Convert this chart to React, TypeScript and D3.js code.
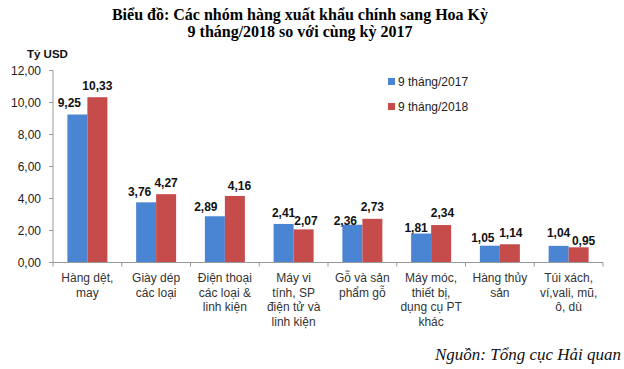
import React from "react";
import * as d3 from "d3";

const categories: string[][] = [
  ["Hàng dệt,", "may"],
  ["Giày dép", "các loại"],
  ["Điện thoại", "các loại &", "linh kiện"],
  ["Máy vi", "tính, SP", "điện tử và", "linh kiện"],
  ["Gỗ và sản", "phẩm gỗ"],
  ["Máy móc,", "thiết bị,", "dụng cụ PT", "khác"],
  ["Hàng thủy", "sản"],
  ["Túi xách,", "ví,vali, mũ,", "ô, dù"],
];
const values2017 = [9.25, 3.76, 2.89, 2.41, 2.36, 1.81, 1.05, 1.04];
const values2018 = [10.33, 4.27, 4.16, 2.07, 2.73, 2.34, 1.14, 0.95];
const seriesNames = ["9 tháng/2017", "9 tháng/2018"];
const yTicks = [0, 2, 4, 6, 8, 10, 12];

// label nudges (layout, px)
const nudge2017 = { dx: [-8, -6.5, -9, 0, -7, -5, -7, 0], gap: [11.4, 10.8, 9.8, 10.8, 4, 5.4, 7.6, 12.7] };
const nudge2018 = { dx: [0, 0, 4.6, 2.4, 0, 1.4, 1, 5], gap: [11.4, 11.7, 10, 9, 12, 12, 11.8, 7] };

const W = 624, H = 369;
const left = 53, right = 603, top = 70.5, bottom = 262.5;
const colors = ["#4a85d3", "#c64b4b"];
const fmt = (v: number) => v.toFixed(2).replace(".", ",");
const sans = "'Liberation Sans', Arial, sans-serif";
const serif = "'Liberation Serif', 'Times New Roman', serif";

export default function App() {
  const x = d3.scaleBand<number>().domain(d3.range(categories.length)).range([left, right]);
  const y = d3.scaleLinear().domain([0, 12]).range([bottom, top]);
  const barW = 20;
  const series = [values2017, values2018];
  const nudges = [nudge2017, nudge2018];
  const bw = x.bandwidth();

  return (
    <svg width={W} height={H} style={{ position: "absolute", left: 0, top: 0, background: "#fff" }}>
      <rect width={W} height={H} fill="#fff" />
      <text x={300} y={20} textAnchor="middle" fontFamily={serif} fontWeight="bold" fontSize={16} fill="#000">
        Biểu đồ: Các nhóm hàng xuất khẩu chính sang Hoa Kỳ
      </text>
      <text x={300} y={37} textAnchor="middle" fontFamily={serif} fontWeight="bold" fontSize={16} fill="#000">
        9 tháng/2018 so với cùng kỳ 2017
      </text>
      <text x={27} y={58} fontFamily={sans} fontWeight="bold" fontSize={11.5} fill="#111">Tỷ USD</text>

      {/* y axis */}
      <line x1={left} x2={left} y1={top} y2={bottom} stroke="#999" />
      {yTicks.map((t) => (
        <g key={t}>
          <line x1={left - 4} x2={left} y1={y(t)} y2={y(t)} stroke="#999" />
          <text x={41} y={y(t)} dy="0.35em" textAnchor="end" fontFamily={sans} fontSize={12} fill="#222">
            {fmt(t)}
          </text>
        </g>
      ))}

      {/* bars */}
      {series.map((vals, s) =>
        vals.map((v, i) => {
          const bx = (x(i) as number) + bw / 2 - barW + s * barW;
          return <rect key={`${s}-${i}`} x={bx} y={y(v)} width={barW} height={y(0) - y(v)} fill={colors[s]} />;
        })
      )}

      {/* x axis */}
      <line x1={left} x2={right} y1={bottom} y2={bottom} stroke="#999" />
      {d3.range(categories.length + 1).map((i) => {
        const tx = left + i * bw;
        return <line key={i} x1={tx} x2={tx} y1={bottom} y2={bottom + 4} stroke="#999" />;
      })}

      {/* value labels */}
      {series.map((vals, s) =>
        vals.map((v, i) => {
          const cx = (x(i) as number) + bw / 2 - barW / 2 + s * barW + nudges[s].dx[i];
          const cy = y(v) - nudges[s].gap[i];
          return (
            <text key={`l${s}-${i}`} x={cx} y={cy} dy="0.35em" textAnchor="middle" fontFamily={sans} fontWeight="bold" fontSize={12} fill="#111">
              {fmt(v)}
            </text>
          );
        })
      )}

      {/* category labels */}
      {categories.map((lines, i) => (
        <text key={`c${i}`} textAnchor="middle" fontFamily={sans} fontSize={12} fill="#333">
          {lines.map((ln, k) => (
            <tspan key={k} x={(x(i) as number) + bw / 2} y={278 + k * 14.5} dy="0.35em">{ln}</tspan>
          ))}
        </text>
      ))}

      {/* legend */}
      {seriesNames.map((n, s) => (
        <g key={n}>
          <rect x={388} y={78 + s * 25} width={7} height={7} fill={colors[s]} />
          <text x={398} y={81.5 + s * 25} dy="0.35em" fontFamily={sans} fontSize={12} fill="#222">{n}</text>
        </g>
      ))}

      <text x={621} y={354} dy="0.35em" textAnchor="end" fontFamily={serif} fontStyle="italic" fontSize={17} fill="#111">
        Nguồn: Tổng cục Hải quan
      </text>
    </svg>
  );
}
